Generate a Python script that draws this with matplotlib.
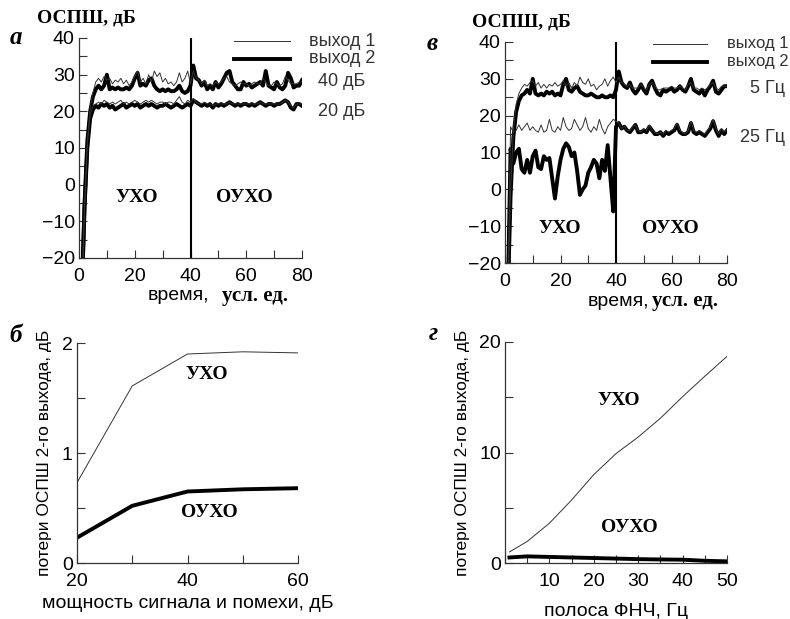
import numpy as np
from matplotlib import pyplot as plt
from matplotlib.ticker import MultipleLocator

plt.rcParams['font.family'] = ['Liberation Sans', 'DejaVu Sans']

# ---------------------------------------------------------------
# time axis for the upper panels (усл. ед.)
t = np.arange(1, 81)

# panel a: 40 dB and 20 dB, output 1 (thin) and output 2 (thick)
a40_out1 = [-30, -6, 12, 21, 25, 28, 29, 28, 29.5, 28.5, 29, 27.5, 28.5, 28, 29, 27.5, 28.5, 27, 28, 29.5,
            31, 28, 29, 27.5, 30, 28, 31, 29.5, 30.5, 28, 29, 27.5, 28, 27, 28, 30.5, 28, 29, 31, 27.5,
            31, 29, 28.5, 27.5, 28.5, 27, 27.5, 27, 28, 27.5, 28, 29, 29.5, 28, 27.5, 27, 27.5, 28, 27.5, 27.5,
            27, 27.5, 28, 27.5, 27.5, 29, 28, 27, 27, 28, 27.5, 27, 27.5, 29.5, 28.5, 27.5, 27.5, 27.5, 28, 28]
a40_out2 = [-30, -5, 12, 20, 24, 26, 27, 26, 27, 30, 26, 26.5, 26, 26.5, 26, 26, 26.5, 26, 27, 29,
            30.5, 27, 27.5, 27, 28.5, 29, 27, 26, 25.5, 26, 25.5, 26, 25.5, 25.5, 26, 27, 25.5, 25, 25.5, 27,
            32.5, 29, 28.5, 27, 28, 26, 27, 26, 28, 26.5, 27.5, 29, 30.5, 31, 28, 27, 26, 26, 28, 27,
            27.5, 26.5, 27, 27.5, 28, 27, 31, 27, 26.5, 26, 28, 26.5, 26, 27, 30.5, 29, 26.5, 27, 27, 28.5]
a20_out1 = [-30, -6, 11, 19, 21.5, 22, 22.5, 22, 23, 22.5, 22, 22.5, 22, 22.5, 23, 22, 22.5, 22, 22.5, 23,
            22.5, 22, 22.5, 23, 22.5, 23, 22.5, 22, 22.5, 22.5, 22, 22.5, 22.5, 22, 23, 24, 22.5, 22, 23, 22.5,
            23.5, 22.5, 22, 22, 22.5, 22, 22, 21.5, 22, 22, 22, 22, 22, 22.5, 22, 22, 22, 22, 22, 22,
            22, 22, 22, 22, 22.5, 22, 22, 22, 22, 22, 22, 22, 22.5, 23, 22.5, 21.5, 21, 22, 22, 22]
a20_out2 = [-30, -6, 10, 18, 20.5, 21.5, 21, 22, 21.5, 22, 21, 21.5, 20.5, 21, 21.5, 22, 21, 21.5, 22, 21.5,
            22, 21, 21.5, 22, 21.5, 22, 21.5, 21, 21.5, 21.5, 22, 21.5, 21, 21.5, 22, 21.5, 21, 21.5, 22, 21.5,
            23, 22.5, 22, 21.5, 22, 21.5, 22, 21, 22, 21.5, 22, 21.5, 22, 22.5, 22, 21.5, 22, 21.5, 22, 22,
            21.5, 22, 21.5, 22, 22.5, 22, 21.5, 22, 22, 21.5, 22, 22, 22.5, 23, 22.5, 21, 20.5, 22, 22, 21.5]

# panel в: 5 Hz and 25 Hz low-pass band
v5_out1 = [-30, -1, 16, 23, 26, 27.5, 28.5, 28, 29, 29.5, 28, 29, 27.5, 28.5, 27.5, 28.5, 28, 29, 28, 28.5,
           29.5, 28, 29, 27.5, 29, 28, 30.5, 29, 28.5, 30, 28, 28.5, 27, 28, 28.5, 30, 28, 29.5, 30.5, 29,
           30.5, 29, 28.5, 28, 28.5, 27.5, 27.5, 27.5, 28.5, 27.5, 27, 28.5, 29, 28, 27, 27, 27.5, 27.5, 27.5, 28,
           27.5, 27.5, 28, 27.5, 27, 28.5, 29, 27.5, 27.5, 27, 27.5, 27, 27.5, 28.5, 29, 27.5, 27, 28, 28, 28]
v5_out2 = [-30, -2, 14, 21, 24, 25.5, 26, 27, 26, 30, 26, 25.5, 26, 25.5, 26.5, 26, 26.5, 25.5, 26, 25.5,
           28.5, 30, 27, 26.5, 27.5, 28, 26.5, 26, 25.5, 25.5, 26, 25.5, 25, 25, 25.5, 25, 25, 25.5, 25, 27,
           32, 29, 28, 27.5, 29, 27, 26, 27, 28.5, 27, 26, 28.5, 29.5, 27.5, 26, 25.5, 27, 26.5, 27, 27.5,
           26.5, 27, 28, 27, 26.5, 28, 30, 27, 26.5, 26, 27, 25.5, 27, 28, 29.5, 26.5, 26, 27, 28, 28]
v25_out1 = [-30, 17, 15.5, 16, 17.5, 16, 17, 18, 16, 17, 16, 15.5, 17.5, 15.5, 16, 19, 16, 15.5, 17, 16,
            19.5, 17, 16, 16.5, 19, 17.5, 16, 17, 19.5, 16.5, 15.5, 17, 16, 19, 16.5, 15, 17, 18, 19, 18.5,
            18, 16.5, 17, 16, 16, 17, 17.5, 16, 15.5, 16.5, 16, 17.5, 16, 15.5, 15, 15.5, 15, 16, 15.5, 16,
            16.5, 18, 16, 15.5, 15, 16, 18.5, 16, 15.5, 16, 15.5, 15, 16, 17, 19, 16.5, 15, 16.5, 15.5, 16.5]
v25_out2 = [-30, 11, 7, 10, 11, 5.5, 4.5, 8, 4.5, 9, 10.5, 6, 5.5, 9, 8, 8.5, 3, -2.5, 3.5, 8,
            11, 12.5, 11.5, 9, 10, 5, -1.5, 0, 1, 4.5, 6, 8, 7, 3, 8, 5, 12, 3, -6, 17,
            18, 16.5, 17, 16, 15.5, 16.5, 17.5, 15.5, 15.5, 16, 15.5, 17, 16, 15, 15, 15.5, 14.5, 15.5, 15, 15.5,
            16, 17.5, 15.5, 15, 15, 15.5, 18, 15.5, 15, 15.5, 15, 14.5, 15.5, 16.5, 18.5, 16, 14.5, 16, 15, 16]

# panel б: loss vs. signal+interference power
power_db = [20, 30, 40, 50, 60]
loss_ucho = [0.73, 1.61, 1.90, 1.92, 1.91]
loss_oucho = [0.23, 0.52, 0.65, 0.67, 0.68]

# panel г: loss vs. low-pass bandwidth
band_hz = [1, 5, 10, 15, 20, 25, 30, 35, 40, 45, 50]
band_ucho = [1.0, 1.95, 3.6, 5.7, 8.0, 9.9, 11.4, 13.1, 15.05, 16.9, 18.7]
band_oucho = [0.5, 0.6, 0.55, 0.5, 0.45, 0.4, 0.35, 0.32, 0.3, 0.2, 0.15]

W, H = 790, 619
SERIF = ['Liberation Serif', 'DejaVu Serif']
THIN = dict(color='#333333', linewidth=0.7)
THICK = dict(color='black', linewidth=2.8, solid_joinstyle='round')


def px_axes(fig, left, right, top, bottom):
	return fig.add_axes([left / W, (H - bottom) / H, (right - left) / W, (bottom - top) / H])


def style(ax):
	for s in ('top', 'right'):
		ax.spines[s].set_visible(False)
	for s in ('left', 'bottom'):
		ax.spines[s].set_linewidth(0.9)
		ax.spines[s].set_color('#333333')
	ax.tick_params(which='both', direction='in', length=6, width=0.8, color='#333333', labelsize=14)
	ax.tick_params(axis='y', pad=3)
	ax.tick_params(axis='x', pad=7.5)


def time_panel(ax):
	style(ax)
	ax.set_xlim(0, 80)
	ax.set_ylim(-20, 40)
	ax.xaxis.set_major_locator(MultipleLocator(20))
	ax.xaxis.set_minor_locator(MultipleLocator(10))
	ax.yaxis.set_major_locator(MultipleLocator(10))
	ax.yaxis.set_minor_locator(MultipleLocator(5))
	ax.axvline(40, color='black', linewidth=1.5)


def legend_lines(ax, x0, x1, y1, y2, tx, fs=13):
	ax.plot([x0, x1], [y1, y1], transform=ax.transAxes, clip_on=False, **THIN)
	ax.plot([x0, x1], [y2, y2], transform=ax.transAxes, clip_on=False, color='black', linewidth=2.8)
	ax.text(tx, y1, 'выход 1', transform=ax.transAxes, fontsize=fs, color='#333333', va='center')
	ax.text(tx, y2, 'выход 2', transform=ax.transAxes, fontsize=fs, color='#333333', va='center')


fig = plt.figure(figsize=(W / 100, H / 100), dpi=100)

# ===============================================================
# а
ax = px_axes(fig, 79, 302, 38, 258)
time_panel(ax)
ax.plot(t, a40_out2, **THICK)
ax.plot(t, a20_out2, **THICK)
ax.plot(t, a40_out1, **THIN)
ax.plot(t, a20_out1, **THIN)
legend_lines(ax, 0.695, 0.946, 0.986, 0.905, 1.03)
ax.text(1.07, 0.80, '40 дБ', transform=ax.transAxes, fontsize=13, color='#333333', va='center')
ax.text(1.07, 0.664, '20 дБ', transform=ax.transAxes, fontsize=13, color='#333333', va='center')
ax.text(20.8, -3.4, 'УХО', family=SERIF, weight='bold', fontsize=14, ha='center', va='center')
ax.text(59.5, -3.4, 'ОУХО', family=SERIF, weight='bold', fontsize=14, ha='center', va='center')
fig.text(37 / W, 1 - 18 / H, 'ОСПШ, дБ', family=SERIF, weight='bold', fontsize=14, va='center')
fig.text(16 / W, 1 - 37 / H, 'а', family=SERIF, weight='bold', style='italic', fontsize=18, ha='center', va='center')
fig.text(148 / W, 1 - 296 / H, 'время,', fontsize=14, va='center')
fig.text(222 / W, 1 - 296 / H, 'усл. ед.', family=SERIF, weight='bold', fontsize=15, va='center')

# в
ax = px_axes(fig, 505, 727, 42, 263)
time_panel(ax)
ax.plot(t, v5_out2, **THICK)
ax.plot(t, v25_out2, **THICK)
ax.plot(t, v5_out1, **THIN)
ax.plot(t, v25_out1, **THIN)
legend_lines(ax, 0.667, 0.91, 0.991, 0.91, 1.0, fs=12)
ax.text(1.261, 0.79, '5 Гц', transform=ax.transAxes, fontsize=13, color='#333333', va='center', ha='right')
ax.text(1.261, 0.57, '25 Гц', transform=ax.transAxes, fontsize=13, color='#333333', va='center', ha='right')
ax.text(19.8, -10.5, 'УХО', family=SERIF, weight='bold', fontsize=14, ha='center', va='center')
ax.text(59.5, -10.5, 'ОУХО', family=SERIF, weight='bold', fontsize=14, ha='center', va='center')
fig.text(472 / W, 1 - 22 / H, 'ОСПШ, дБ', family=SERIF, weight='bold', fontsize=14, va='center')
fig.text(432 / W, 1 - 43 / H, 'в', family=SERIF, weight='bold', style='italic', fontsize=18, ha='center', va='center')
fig.text(588 / W, 1 - 301 / H, 'время,', fontsize=14, va='center')
fig.text(652 / W, 1 - 301 / H, 'усл. ед.', family=SERIF, weight='bold', fontsize=15, va='center')

# б
ax = px_axes(fig, 77, 298, 343, 563)
style(ax)
ax.set_xlim(20, 60)
ax.set_ylim(0, 2)
ax.xaxis.set_major_locator(MultipleLocator(20))
ax.xaxis.set_minor_locator(MultipleLocator(10))
ax.yaxis.set_major_locator(MultipleLocator(1))
ax.yaxis.set_minor_locator(MultipleLocator(0.5))
ax.plot(power_db, loss_oucho, **THICK)
ax.plot(power_db, loss_ucho, **THIN)
ax.text(43.5, 1.71, 'УХО', family=SERIF, weight='bold', fontsize=14, ha='center', va='center')
ax.text(43.9, 0.46, 'ОУХО', family=SERIF, weight='bold', fontsize=14, ha='center', va='center')
ax.set_xlabel('мощность сигнала и помехи, дБ', fontsize=14, labelpad=3)
fig.text(45 / W, 1 - 453 / H, 'потери ОСПШ 2-го выхода, дБ', fontsize=12.5, rotation=90, ha='center', va='center')
fig.text(16 / W, 1 - 335 / H, 'б', family=SERIF, weight='bold', style='italic', fontsize=18, ha='center', va='center')

# г
ax = px_axes(fig, 505, 727, 342, 563)
style(ax)
ax.set_xlim(0, 50)
ax.set_ylim(0, 20)
ax.set_xticks([10, 20, 30, 40, 50])
ax.xaxis.set_minor_locator(MultipleLocator(5))
ax.yaxis.set_major_locator(MultipleLocator(10))
ax.yaxis.set_minor_locator(MultipleLocator(5))
ax.plot(band_hz, band_oucho, **THICK)
ax.plot(band_hz, band_ucho, **THIN)
ax.text(25.6, 14.75, 'УХО', family=SERIF, weight='bold', fontsize=14, ha='center', va='center')
ax.text(28, 3.2, 'ОУХО', family=SERIF, weight='bold', fontsize=14, ha='center', va='center')
ax.set_xlabel('полоса ФНЧ, Гц', fontsize=14, labelpad=9)
fig.text(462 / W, 1 - 453 / H, 'потери ОСПШ 2-го выхода, дБ', fontsize=12.5, rotation=90, ha='center', va='center')
fig.text(433 / W, 1 - 334 / H, 'г', family=SERIF, weight='bold', style='italic', fontsize=18, ha='center', va='center')

fig.savefig('out.png', dpi=100)
